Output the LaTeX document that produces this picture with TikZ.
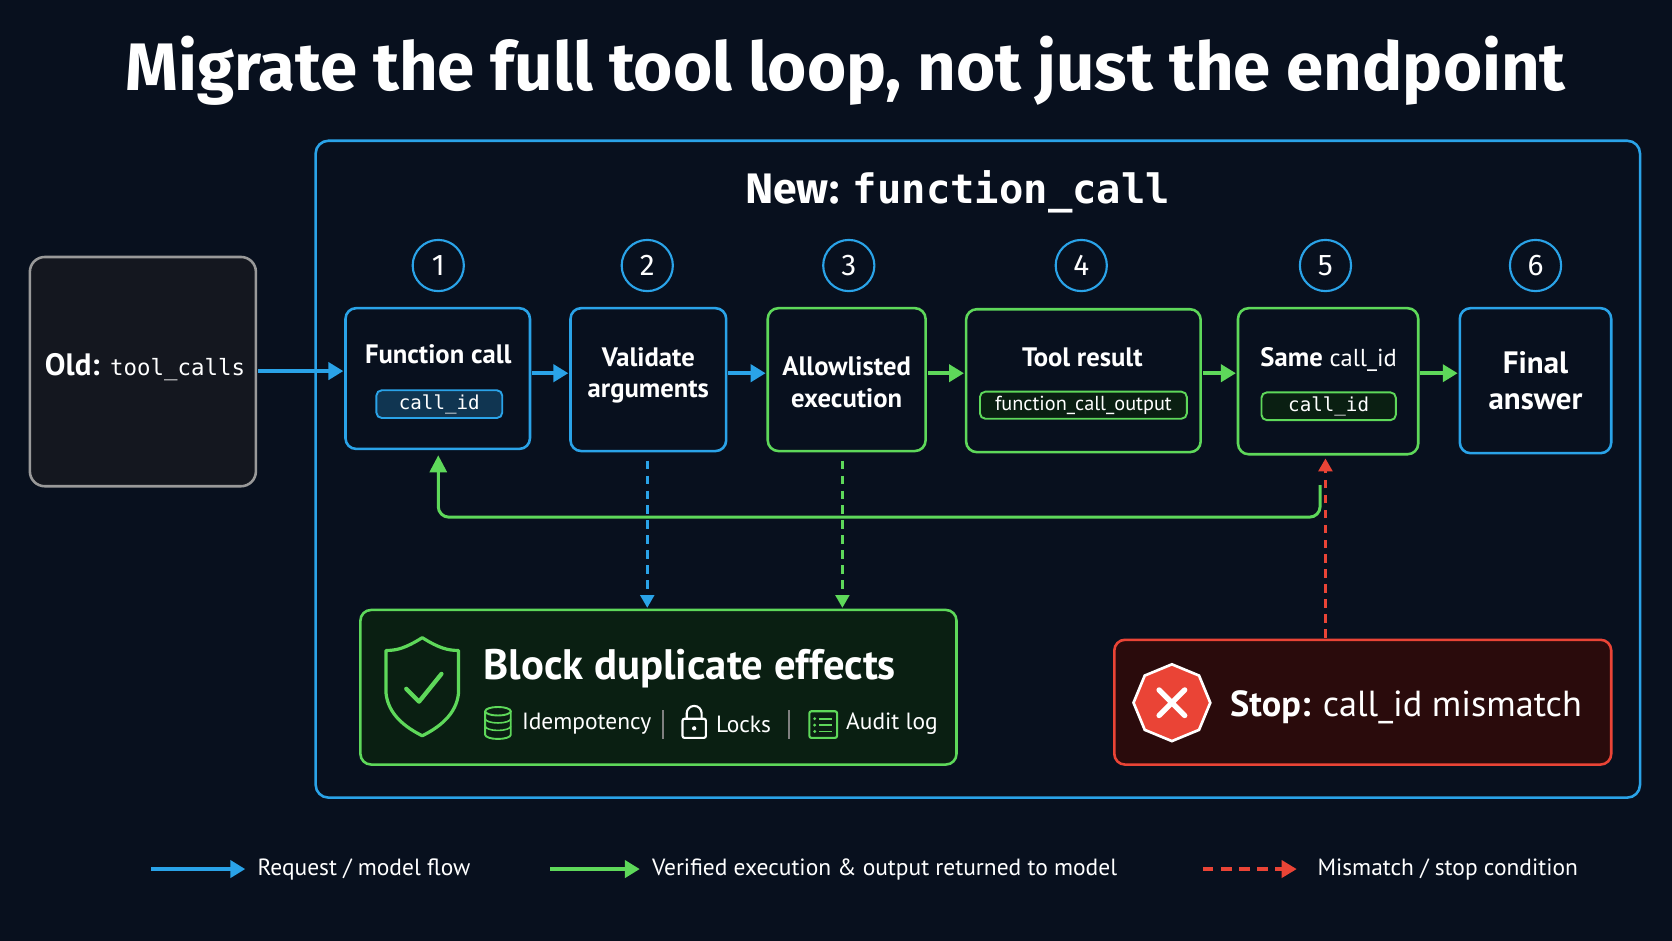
\documentclass[tikz,border=0pt]{standalone}
\usepackage{fontspec}
\setmainfont{Fira Sans}
\newfontfamily\cond{PT Sans}
\setmonofont{DejaVu Sans Mono}
\usetikzlibrary{arrows.meta,shapes.geometric,calc}
\definecolor{bg}{HTML}{08101E}
\definecolor{cblue}{HTML}{2AA3E8}
\definecolor{cgreen}{HTML}{5ED85A}
\definecolor{cred}{HTML}{EA4436}
\definecolor{gfill}{HTML}{0A1F12}
\definecolor{rfill}{HTML}{2A0B0C}
\definecolor{ofill}{HTML}{14171F}
\begin{document}
\begin{tikzpicture}[x=1pt,y=-1pt,
 box/.style={draw=#1,line width=2.4pt,rounded corners=10pt,fill=bg},
 stp/.style={text=white,font=\cond\bfseries\fontsize{25}{30}\selectfont,align=center},
 chip/.style={draw=#1,line width=1.8pt,rounded corners=5pt,text=white,font=\ttfamily\fontsize{18}{20}\selectfont,inner sep=4pt},
 num/.style={circle,draw=cblue,line width=2pt,minimum size=48pt,text=white,font=\fontsize{28}{30}\selectfont},
 arr/.style={-{Triangle[length=14pt,width=16pt]},line width=3.5pt,draw=#1},
 darr/.style={-{Triangle[length=12pt,width=13pt]},line width=2.5pt,draw=#1,dash pattern=on 8pt off 6pt},
 leg/.style={text=white,font=\cond\fontsize{22}{24}\selectfont,anchor=west}]
\fill[bg] (0,0) rectangle (1568,882);
\useasboundingbox (0,0) rectangle (1568,882);
\node[text=white,font=\bfseries\fontsize{63}{68}\selectfont] (title) at (793,66) {Migrate the full tool loop, not just the endpoint};
\draw[cblue,line width=2.4pt,rounded corners=12pt] (296,132) rectangle (1538,748);
\node[text=white] (new) at (898,180) {\fontsize{40}{44}\selectfont\bfseries New: \ttfamily\fontsize{38}{44}\selectfont function\_call};
% old
\draw[draw=gray!80,line width=2.4pt,rounded corners=14pt,fill=ofill] (28,241) rectangle (240,456);
\node[text=white] (old) at (136,344) {\cond\bfseries\fontsize{29}{32}\selectfont Old: \ttfamily\mdseries\fontsize{21}{24}\selectfont tool\_calls};
\coordinate (oldE) at (242,348);
% steps
\draw[box=cblue] (324,289) rectangle (497,421);
\draw[box=cblue] (535,289) rectangle (681,423);
\draw[box=cgreen] (720,289) rectangle (868,423);
\draw[box=cgreen] (906,290) rectangle (1126,424);
\draw[box=cgreen] (1161,289) rectangle (1330,426);
\draw[box=cblue] (1369,289) rectangle (1511,425);
\node[stp] (t1) at (411,332) {Function call};
\node[chip=cblue,fill=cblue!25!bg,minimum width=118pt] (c1) at (412,379) {call\_id};
\node[stp] (t2) at (608,352) {Validate\\arguments};
\node[stp] (t3) at (794,358) {Allowlisted\\execution};
\node[stp] (t4) at (1015,335) {Tool result};
\node[chip=cgreen,fill=gfill,minimum width=194pt,font=\cond\fontsize{19}{22}\selectfont] (c4) at (1016,380) {function\_call\_output};
\node[stp] (t5) at (1246,337) {Same \mdseries\fontsize{23}{26}\selectfont call\_id};
\node[chip=cgreen,fill=gfill,minimum width=126pt] (c5) at (1246,381) {call\_id};
\node[stp,font=\cond\bfseries\fontsize{29}{34}\selectfont] (t6) at (1440,357) {Final\\answer};
\foreach \x/\n in {411/1,607/2,796/3,1014/4,1243/5,1440/6}
  \node[num] (k\n) at (\x,249) {\n};
% arrows
\draw[arr=cblue] (oldE) -- (322,348);
\draw[arr=cblue] (499,350) -- (533,350);
\draw[arr=cblue] (683,350) -- (718,350);
\draw[arr=cgreen] (870,350) -- (904,350);
\draw[arr=cgreen] (1128,350) -- (1159,350);
\draw[arr=cgreen] (1332,350) -- (1367,350);
% loop
\draw[cgreen,line width=2.8pt,-{Triangle[length=16pt,width=16pt]},rounded corners=10pt] (1238,455) -- (1238,485) -- (411,485) -- (411,427);
\draw[darr=cblue] (607,432) -- (607,570);
\draw[darr=cgreen] (790,432) -- (790,570);
\draw[darr=cred] (1243,598) -- (1243,430);
% block box
\draw[draw=cgreen,line width=2.4pt,rounded corners=10pt,fill=gfill] (338,572) rectangle (897,717);
\draw[cgreen,line width=3pt,line join=round] (396,598) .. controls (380,608) and (372,610) .. (362,610) -- (362,650) .. controls (364,670) and (380,682) .. (396,690) .. controls (412,682) and (428,670) .. (430,650) -- (430,610) .. controls (420,610) and (412,608) .. (396,598) -- cycle;
\draw[cgreen,line width=4pt,line cap=round,line join=round] (381,646) -- (393,658) -- (414,632);
\node[text=white,font=\cond\bfseries\fontsize{40}{44}\selectfont,anchor=west] (bt) at (450,627) {Block duplicate effects};
\node[text=white,font=\cond\fontsize{22}{24}\selectfont,anchor=west] (b1) at (486,679) {Idempotency};
\node[text=white,font=\cond\fontsize{22}{24}\selectfont,anchor=west] (b2) at (668,679) {Locks};
\node[text=white,font=\cond\fontsize{22}{24}\selectfont,anchor=west] (b3) at (790,679) {Audit log};
% icons
\draw[cgreen,line width=1.8pt] (467,667) ellipse (12pt and 4pt);
\draw[cgreen,line width=1.8pt] (455,667) -- (455,689) arc[start angle=180,end angle=360,x radius=12pt,y radius=4pt] -- (479,667);
\draw[cgreen,line width=1.5pt] (455,674) arc[start angle=180,end angle=360,x radius=12pt,y radius=4pt];
\draw[cgreen,line width=1.5pt] (455,681) arc[start angle=180,end angle=360,x radius=12pt,y radius=4pt];
\draw[gray,line width=1.5pt] (622,666) -- (622,693);
\draw[white,line width=2pt,rounded corners=2pt] (640,674) rectangle (662,692);
\draw[white,line width=2pt] (644,674) -- (644,669) arc[start angle=180,end angle=0,radius=7pt] -- (658,674);
\fill[white] (651,683) circle (2pt);
\draw[gray,line width=1.5pt] (740,666) -- (740,693);
\draw[cgreen,line width=2pt,rounded corners=2pt] (759,667) rectangle (785,692);
\foreach \y in {674,680,686}{\fill[cgreen] (764,\y) circle (1.5pt); \draw[cgreen,line width=1.5pt] (768,\y) -- (780,\y);}
% stop box
\draw[draw=cred,line width=2.4pt,rounded corners=10pt,fill=rfill] (1045,600) rectangle (1511,717);
\node[regular polygon,regular polygon sides=8,shape border rotate=22.5,fill=cred,draw=white,line width=2.5pt,minimum size=72pt] (oct) at (1099,659) {};
\draw[white,line width=5pt,line cap=round] (1087,647) -- (1111,671) (1111,647) -- (1087,671);
\node[text=white,anchor=west] (st) at (1150,663) {\cond\bfseries\fontsize{34}{40}\selectfont Stop: \mdseries call\_id mismatch};
% legend
\draw[arr=cblue] (142,815) -- (230,815);
\node[leg] (l1) at (238,815) {Request / model flow};
\draw[arr=cgreen] (516,815) -- (600,815);
\node[leg] (l2) at (608,815) {Verified execution \& output returned to model};
\draw[cred,line width=3pt,dash pattern=on 10pt off 7pt,-{Triangle[length=14pt,width=16pt]}] (1128,815) -- (1216,815);
\node[leg] (l3) at (1232,815) {Mismatch / stop condition};
\end{tikzpicture}
\end{document}
